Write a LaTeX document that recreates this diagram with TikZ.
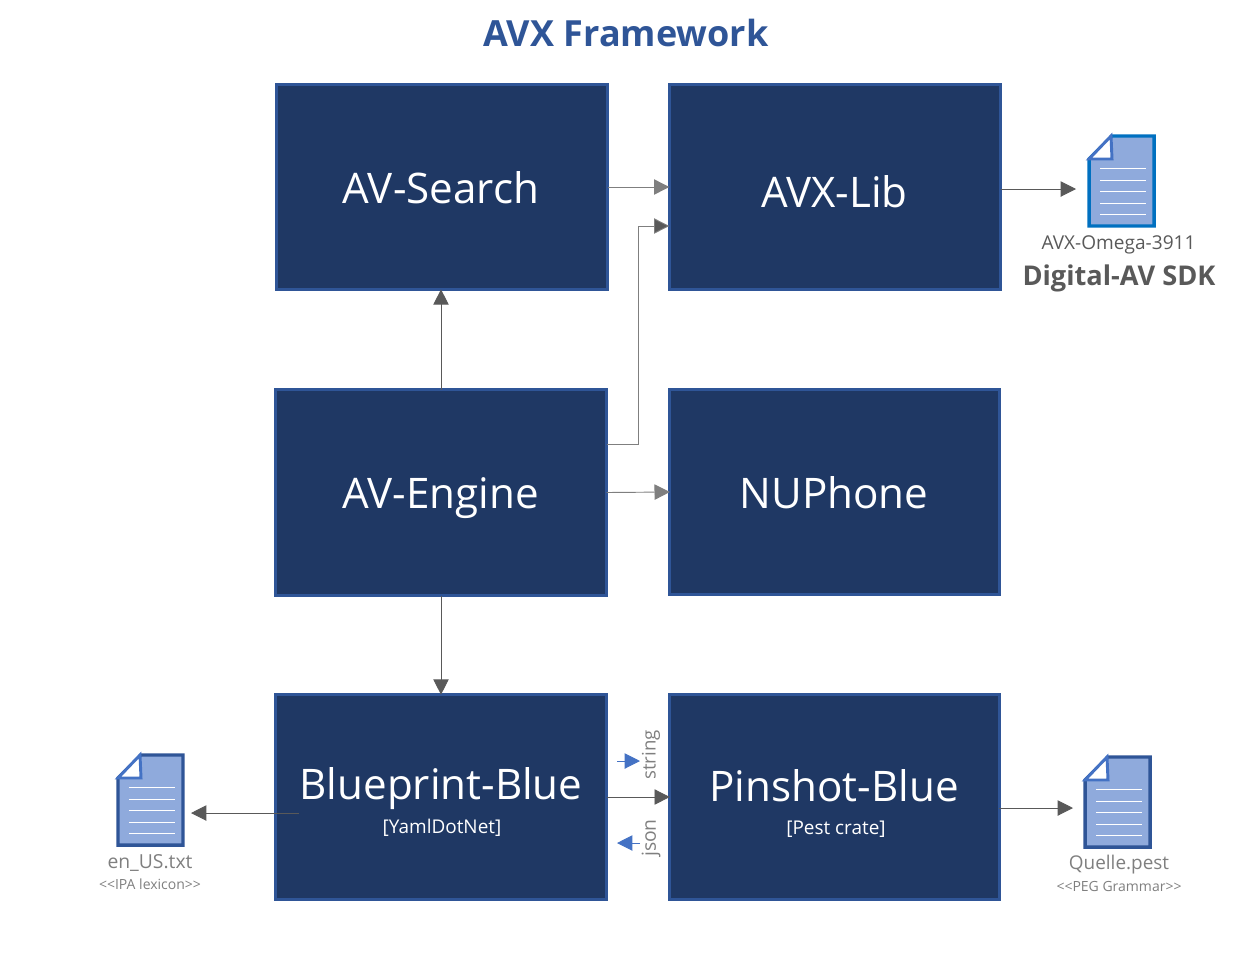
\documentclass[tikz,border=0pt]{standalone}
\usepackage{fontspec}
\setmainfont{Open Sans}
\usetikzlibrary{arrows.meta,calc}
\definecolor{boxfill}{HTML}{1F3864}
\definecolor{boxline}{HTML}{2F5597}
\definecolor{docfill}{HTML}{8FAADC}
\definecolor{docblue}{HTML}{0070C0}
\definecolor{foldline}{HTML}{4472C4}
\definecolor{titleblue}{HTML}{2F5597}
\definecolor{darkg}{HTML}{595959}
\definecolor{midg}{HTML}{7F7F7F}
\tikzset{
  x=0.75pt,y=-0.75pt,
  bigbox/.style={draw=boxline,fill=boxfill,line width=2.25pt,minimum width=248.5pt,minimum height=153.5pt,inner sep=0pt,outer sep=0pt},
  boxtext/.style={text=white,font=\fontsize{31.6}{36}\selectfont,inner sep=0pt,anchor=center},
  subtext/.style={text=white,font=\fontsize{14.2}{16}\selectfont,inner sep=0pt,anchor=center},
  lbl/.style={inner sep=0pt,anchor=center},
  conn/.style={draw=darkg,line width=0.7pt,-{Triangle[length=11.5pt,width=11.5pt,fill=darkg]}},
  connm/.style={draw=midg,line width=0.7pt,-{Triangle[length=11.5pt,width=11.5pt,fill=midg]}},
  blueconn/.style={draw=foldline,line width=0.7pt,-{Triangle[length=11.5pt,width=11.5pt,fill=foldline]}},
}
\newcommand{\docicon}[3]{% x-left, y-top, colour
  \begin{scope}[shift={(#1,#2)}]
    \draw[draw=#3,fill=docfill,line width=2.6pt,line join=miter] (23,0) -- (65,0) -- (65,90) -- (0,90) -- (0,23) -- cycle;
    \draw[draw=foldline,fill=white,line width=2.2pt,line join=miter] (0,23) -- (22,0) -- (23,23) -- cycle;
    \foreach \yy in {32,44,55,67,78}{\draw[white,line width=0.6pt] (11,\yy) -- (57,\yy);}
  \end{scope}}
\begin{document}
\begin{tikzpicture}
\useasboundingbox (0,0) rectangle (1248,954);
\node[lbl,text=titleblue,font=\bfseries\fontsize{27}{32}\selectfont] (title) at (626,33) {AVX Framework};
\node[bigbox] (search) at (442,187) {};
\node[bigbox] (lib) at (835,187) {};
\node[bigbox,minimum height=154.5pt] (engine) at (441,492.5) {};
\node[bigbox,minimum width=247pt] (nuphone) at (834.5,492) {};
\node[bigbox] (blueprint) at (441,797) {};
\node[bigbox,minimum width=247pt] (pinshot) at (834.5,797) {};
\node[boxtext] (tsearch) at (441,187.5) {AV-Search};
\node[boxtext] (tlib) at (834.5,192) {AVX-Lib};
\node[boxtext] (tengine) at (441,498) {AV-Engine};
\node[boxtext] (tnu) at (834,492.5) {NUPhone};
\node[boxtext] (tblue) at (441,789) {Blueprint-Blue};
\node[boxtext] (tpin) at (834,785.5) {Pinshot-Blue};
\node[subtext] (syaml) at (442,828) {[YamlDotNet]};
\node[subtext] (spest) at (836,829) {[Pest crate]};
% documents
\docicon{1089}{136}{docblue}
\docicon{118}{755}{boxline}
\docicon{1085}{757}{boxline}
\coordinate (doc1) at (1076,189);
\coordinate (doc2) at (191,813);
\coordinate (doc3) at (1073,808);
\coordinate (bpstart) at (299,813);
% doc labels
\node[lbl,text=darkg,font=\fontsize{14.3}{17}\selectfont] (omega) at (1118.5,245) {AVX-Omega-3911};
\node[lbl,text=darkg,font=\bfseries\fontsize{20.4}{24}\selectfont] (sdk) at (1119,278) {Digital-AV SDK};
\node[lbl,text=midg,font=\fontsize{14.5}{17}\selectfont] (enus) at (150,863) {en\_US.txt};
\node[lbl,text=midg,font=\fontsize{10.5}{12}\selectfont] (ipa) at (150,884) {<{}<IPA lexicon>{}>};
\node[lbl,text=midg,font=\fontsize{14.2}{17}\selectfont] (quelle) at (1119,865) {Quelle.pest};
\node[lbl,text=midg,font=\fontsize{10.5}{12}\selectfont] (peg) at (1119,886) {<{}<PEG Grammar>{}>};
\node[lbl,text=midg,rotate=90,font=\fontsize{14}{17}\selectfont] (str) at (651,755) {string};
\node[lbl,text=midg,rotate=90,font=\fontsize{14.5}{17}\selectfont] (json) at (651,838) {json};
% connectors
\draw[connm] (search.east) -- (lib.west);
\draw[conn] (engine.north) -- (engine.north |- search.south);
\draw[connm,-{Triangle[length=11.5pt,width=11.5pt,fill=darkg]}] ($(engine.east)+(0,-48)$) -| (638,226) -- (lib.west |- 0,226);
\draw[connm] (engine.east) -- (nuphone.west);
\draw[conn] (engine.south) -- (blueprint.north);
\draw[conn] (lib.east |- doc1) -- (doc1);
\draw[conn] (bpstart) -- (doc2);
\draw[conn] (blueprint.east) -- (pinshot.west);
\draw[conn] (pinshot.east |- doc3) -- (doc3);
\coordinate (s1) at (617,761);
\coordinate (s2) at (640,761);
\coordinate (j1) at (640,843);
\coordinate (j2) at (617,843);
\draw[blueconn] (s1) -- (s2);
\draw[blueconn] (j1) -- (j2);
\end{tikzpicture}
\end{document}
